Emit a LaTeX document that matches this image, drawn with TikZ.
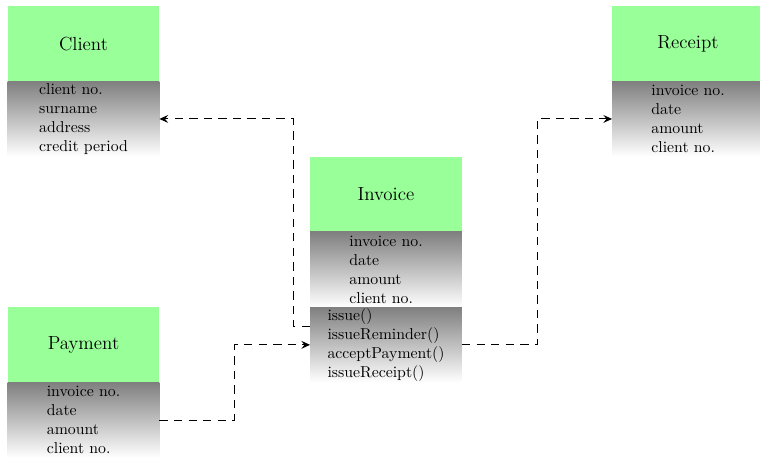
\documentclass[tikz,border=0pt]{standalone}
\usetikzlibrary{arrows.meta,calc}
\begin{document}
\begin{tikzpicture}[x=0.633pt,y=-0.633pt,
  box/.style={minimum width=96.2pt,minimum height=47.66pt,inner sep=0pt,outer sep=0pt},
  hdr/.style={box,fill=green!40,font=\large},
  att/.style={box,top color=gray,bottom color=white,align=left},
  conn/.style={line width=0.6pt,dash pattern=on 5.3pt off 3.9pt,-{Stealth[length=5.5pt,width=5pt,inset=2pt]}}]
\useasboundingbox (0,0) rectangle (760,457);
% Client
\node[hdr] (ch) at (83.5,43.65) {Client};
\node[att] (ca) at (83.5,118.95) {client no.\\surname\\address\\credit period};
% Receipt
\node[hdr] (rh) at (688,43.65) {Receipt};
\node[att] (ra) at (688,118.95) {invoice no.\\date\\amount\\client no.};
% Invoice
\node[hdr] (ih) at (386,194.25) {Invoice};
\node[att] (ia) at (386,269.55) {invoice no.\\date\\amount\\client no.};
\node[att] (im) at (386,344.85) {issue()\\issueReminder()\\acceptPayment()\\issueReceipt()};
% Payment
\node[hdr] (ph) at (83.5,344.85) {Payment};
\node[att] (pa) at (83.5,420.15) {invoice no.\\date\\amount\\client no.};
% connectors
\draw[conn] ($(im.north west)+(0,19)$) -- ++(-17,0) |- (ca.east);
\draw[conn] (pa.east) -| ($(pa.east)!0.5!(im.west)$) |- (im.west);
\draw[conn] (im.east) -| ($(im.east)!0.5!(ra.west)$) |- (ra.west);
\end{tikzpicture}
\end{document}
